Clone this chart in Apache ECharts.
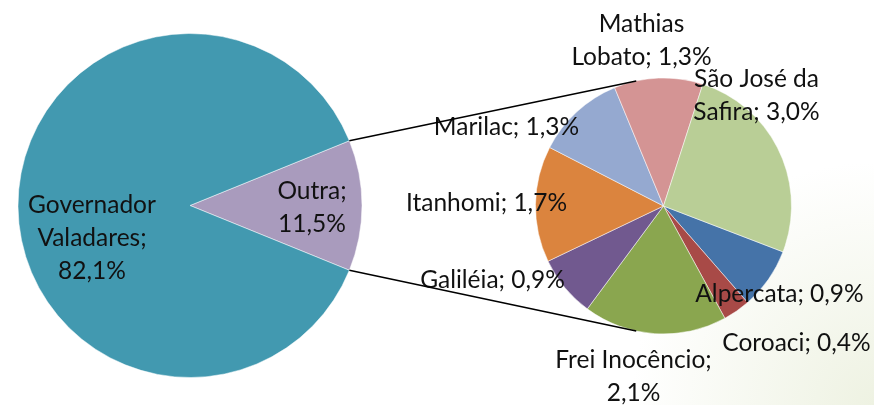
<!DOCTYPE html>
<html>
<head>
<meta charset="utf-8">
<script src="https://cdn.jsdelivr.net/npm/echarts@6/dist/echarts.min.js"></script>
<style>
  html, body { margin: 0; padding: 0; }
  #chart { width: 874px; height: 405px; }
</style>
</head>
<body>
<div id="chart"></div>
<script>
// main pie
const mainNames = ["Outra", "Governador Valadares"];
const mainValues = [11.5, 82.1];
const mainLabels = ["Outra;\n11,5%", "Governador\nValadares;\n82,1%"];

// breakdown of "Outra"
const subNames = ["Alpercata", "Coroaci", "Frei Inocêncio", "Galiléia", "Itanhomi", "Marilac", "Mathias Lobato", "São José da Safira"];
const subValues = [0.9, 0.4, 2.1, 0.9, 1.7, 1.3, 1.3, 3.0];
const subLabels = ["Alpercata; 0,9%", "Coroaci; 0,4%", "Frei Inocêncio;\n2,1%", "Galiléia; 0,9%", "Itanhomi; 1,7%", "Marilac; 1,3%", "Mathias\nLobato; 1,3%", "São José da\nSafira; 3,0%"];

const mainColors = ["#a99bbd", "#4299b0"];
const subColors = ["#4573a8", "#a84a47", "#8aa64f", "#71598f", "#db843e", "#95a9d0", "#d49494", "#b9ce96"];

// layout
const mainCenter = [190, 205.5], mainR = 172;
const subCenter = [663.5, 206], subR = 128;
// label offsets from the pie centres
const mainLabelOffset = [[122, 2], [-98, 33]];
const subLabelOffset = [[116, 88], [133, 137], [-30, 171], [-171, 74], [-177, -3], [-157, -79], [-22, -165], [93, -110]];

const font = "Lato, 'Open Sans', sans-serif";
const chart = echarts.init(document.getElementById("chart"));

const mainTotal = mainValues.reduce((a, b) => a + b, 0);
const half = mainValues[0] / mainTotal * 180; // half angle of "Outra" wedge
const rad = Math.PI / 180;
const connAngle = 102.3;

function labelAt(center, offsets) {
  return (params) => ({
    x: center[0] + offsets[params.dataIndex][0],
    y: center[1] + offsets[params.dataIndex][1],
    align: "center",
    verticalAlign: "middle"
  });
}

const labelStyle = {
  show: true,
  position: "inside",
  color: "#111",
  fontFamily: font,
  fontSize: 24.5,
  lineHeight: 33,
  align: "center"
};

chart.setOption({
  backgroundColor: {
    type: "radial", x: 1, y: 1, r: 0.6,
    colorStops: [
      { offset: 0, color: "#eef2e2" },
      { offset: 1, color: "#ffffff" }
    ]
  },
  animation: false,
  series: [
    {
      type: "pie",
      center: mainCenter,
      radius: [0, mainR],
      startAngle: half,
      clockwise: true,
      data: mainNames.map((n, i) => ({ name: n, value: mainValues[i], itemStyle: { color: mainColors[i] } })),
      itemStyle: { borderColor: "#ffffff", borderWidth: 0.5 },
      label: Object.assign({}, labelStyle, { formatter: (p) => mainLabels[p.dataIndex] }),
      labelLine: { show: false },
      labelLayout: labelAt(mainCenter, mainLabelOffset),
      emphasis: { disabled: true }
    },
    {
      type: "pie",
      center: subCenter,
      radius: [0, subR],
      startAngle: -21,
      clockwise: true,
      data: subNames.map((n, i) => ({ name: n, value: subValues[i], itemStyle: { color: subColors[i] } })),
      itemStyle: { borderColor: "#ffffff", borderWidth: 0.5 },
      label: Object.assign({}, labelStyle, { formatter: (p) => subLabels[p.dataIndex] }),
      labelLine: { show: false },
      labelLayout: labelAt(subCenter, subLabelOffset),
      emphasis: { disabled: true }
    }
  ],
  graphic: [1, -1].map((s) => ({
    type: "line",
    z: 10,
    shape: {
      x1: mainCenter[0] + mainR * Math.cos(half * rad),
      y1: mainCenter[1] - s * mainR * Math.sin(half * rad),
      x2: subCenter[0] + subR * Math.cos(connAngle * rad),
      y2: subCenter[1] - s * subR * Math.sin(connAngle * rad)
    },
    style: { stroke: "#000", lineWidth: 1.5 }
  }))
});
</script>
</body>
</html>
